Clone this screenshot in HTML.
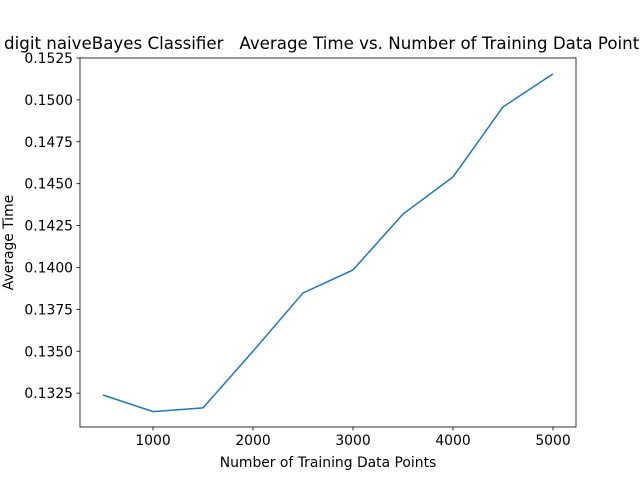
<!DOCTYPE html>
<html><head><meta charset="utf-8"><style>
body{margin:0;background:#fff;}
svg{display:block;font-family:"DejaVu Sans","Liberation Sans",sans-serif;}
</style></head><body>
<svg id="chart" width="640" height="480">
<rect x="0" y="0" width="640" height="480" fill="#fff"/>
<text x="326" y="49" text-anchor="middle" font-size="16.67" style="white-space:pre" xml:space="preserve">digit naiveBayes Classifier   Average Time vs. Number of Training Data Points</text>
<g id="axes"></g>
</svg>
<script>
const xValues=[500,1000,1500,2000,2500,3000,3500,4000,4500,5000];
const yValues=[0.13239,0.1314,0.13162,0.1350,0.13848,0.13985,0.14319,0.1454,0.14958,0.15155];
const xTicks=[1000,2000,3000,4000,5000];
const yTicks=[0.1325,0.135,0.1375,0.14,0.1425,0.145,0.1475,0.15,0.1525];
const yTickLabels=["0.1325","0.1350","0.1375","0.1400","0.1425","0.1450","0.1475","0.1500","0.1525"];
const L=80,R=576,T=58,B=427;
const xMin=270,xMax=5230,yMin=0.13048,yMax=0.1525;
const sx=v=>L+(v-xMin)/(xMax-xMin)*(R-L);
const sy=v=>B-(v-yMin)/(yMax-yMin)*(B-T);
const ns="http://www.w3.org/2000/svg";
const g=document.getElementById('axes');
function mk(t,a){const e=document.createElementNS(ns,t);for(const k in a)e.setAttribute(k,a[k]);g.appendChild(e);return e;}
xTicks.forEach(v=>{
 const t=mk('line',{x1:sx(v),x2:sx(v),y1:B,y2:B+3.5,stroke:'#000','stroke-width':0.8});
 
 
 const l=mk('text',{x:sx(v),y:B+18,'text-anchor':'middle','font-size':13.9});
 l.textContent=v;
 
 
});
yTicks.forEach((v,i)=>{
 const t=mk('line',{x1:L-3.5,x2:L,y1:sy(v),y2:sy(v),stroke:'#000','stroke-width':0.8});
 
 
 const l=mk('text',{x:L-7,y:sy(v)+5,'text-anchor':'end','font-size':13.9});
 l.textContent=yTickLabels[i];
 
 
});
const line=mk('polyline',{points:xValues.map((x,i)=>sx(x)+','+sy(yValues[i])).join(' '),fill:'none',stroke:'#1f77b4','stroke-width':1.5});


const frame=mk('rect',{x:L,y:T,width:R-L,height:B-T,fill:'none',stroke:'#000','stroke-width':0.8});


const xl=mk('text',{x:(L+R)/2,y:467,'text-anchor':'middle','font-size':13.9});
xl.textContent='Number of Training Data Points';


const yl=mk('text',{x:13,y:(T+B)/2,'text-anchor':'middle','font-size':13.9,transform:'rotate(-90 13 '+((T+B)/2)+')'});
yl.textContent='Average Time';


</script>
</body></html>
